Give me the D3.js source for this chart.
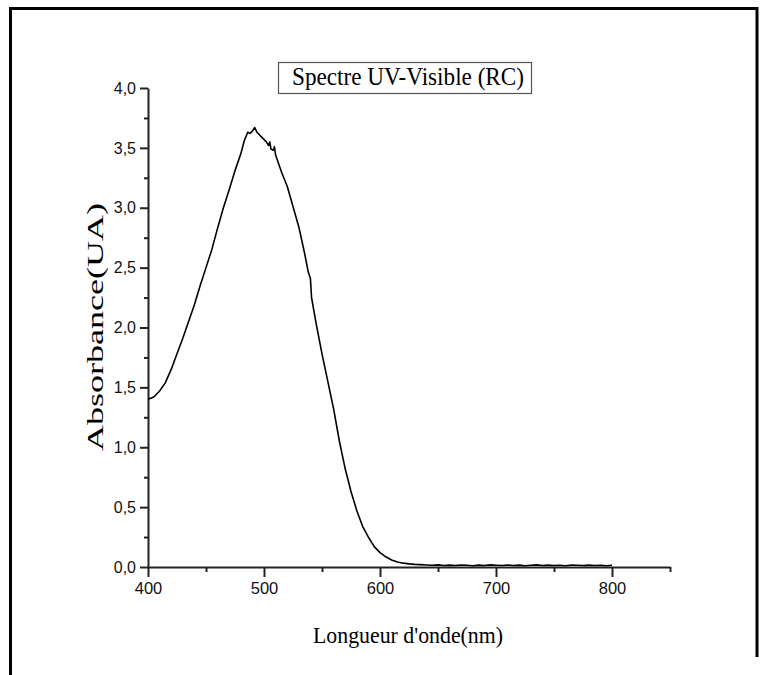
<!DOCTYPE html>
<html>
<head>
<meta charset="utf-8">
<script src="https://cdn.jsdelivr.net/npm/d3@7"></script>
<style>
  html, body { margin: 0; padding: 0; background: #fff; }
  svg { display: block; }
</style>
</head>
<body>
<svg id="chart" width="766" height="675"></svg>
<script>
// ---- data ----
const wavelengths = [
  400, 405, 410, 415, 420, 425, 430, 435, 440, 445, 450, 455, 460, 465, 470, 475, 480,
  483, 486, 488, 490, 492, 494, 496, 498, 500, 502, 504, 505, 506, 508, 509, 510,
  515, 520, 525, 530, 535, 538, 540, 541, 545, 550, 555, 560, 565, 570, 575, 580,
  585, 590, 595, 600, 605, 610, 615, 620, 625, 630, 635, 640, 645, 650, 655, 660,
  665, 670, 675, 680, 685, 690, 695, 700, 705, 710, 715, 720, 725, 730, 735, 740,
  745, 750, 755, 760, 765, 770, 775, 780, 785, 790, 795, 800
];
const absorbance = [
  1.40, 1.42, 1.47, 1.54, 1.65, 1.78, 1.91, 2.05, 2.19, 2.35, 2.50, 2.65, 2.83, 3.00, 3.15, 3.31, 3.45,
  3.56, 3.63, 3.62, 3.64, 3.67, 3.63, 3.61, 3.59, 3.57, 3.55, 3.52, 3.55, 3.49, 3.48, 3.51, 3.44,
  3.30, 3.18, 3.01, 2.84, 2.62, 2.47, 2.41, 2.25, 2.03, 1.78, 1.55, 1.32, 1.05, 0.82, 0.63, 0.47,
  0.34, 0.25, 0.17, 0.12, 0.085, 0.058, 0.042, 0.032, 0.026, 0.022, 0.020, 0.017, 0.015, 0.018, 0.013, 0.016,
  0.012, 0.017, 0.014, 0.011, 0.016, 0.013, 0.018, 0.015, 0.012, 0.017, 0.013, 0.016, 0.011, 0.015, 0.018, 0.012,
  0.016, 0.013, 0.015, 0.011, 0.017, 0.014, 0.012, 0.016, 0.013, 0.015, 0.011, 0.014
];
const xMajorTicks = [400, 500, 600, 700, 800];
const xMinorTicks = [450, 550, 650, 750, 850];
const yMajorTicks = [0, 0.5, 1.0, 1.5, 2.0, 2.5, 3.0, 3.5, 4.0];
const yMinorTicks = [0.25, 0.75, 1.25, 1.75, 2.25, 2.75, 3.25, 3.75];
const titleText = "Spectre UV-Visible (RC)";
const xLabel = "Longueur d'onde(nm)";
const yLabel = "Absorbance(UA)";

// ---- drawing ----
const svg = d3.select("#chart");
const x = d3.scaleLinear().domain([400, 850]).range([148, 670]);
const y = d3.scaleLinear().domain([0, 4]).range([567, 88]);
const fmt = v => d3.format(".1f")(v).replace(".", ",");

// outer frame
svg.append("line").attr("x1", 9).attr("x2", 758).attr("y1", 8.5).attr("y2", 8.5)
  .attr("stroke", "#000").attr("stroke-width", 3);
svg.append("line").attr("x1", 10.5).attr("x2", 10.5).attr("y1", 7).attr("y2", 675)
  .attr("stroke", "#000").attr("stroke-width", 3);
svg.append("line").attr("x1", 757).attr("x2", 757).attr("y1", 7).attr("y2", 657)
  .attr("stroke", "#000").attr("stroke-width", 3);

const axisColor = "#222";

// x axis minor
svg.append("g").attr("transform", `translate(0,${y(0)})`)
  .call(d3.axisBottom(x).tickValues(xMinorTicks).tickSize(5).tickFormat(""))
  .call(g => g.select(".domain").remove())
  .call(g => g.selectAll("line").attr("stroke", axisColor).attr("stroke-width", 2));
// x axis major
svg.append("g").attr("transform", `translate(0,${y(0)})`)
  .call(d3.axisBottom(x).tickValues(xMajorTicks).tickSize(10).tickSizeOuter(0).tickPadding(5).tickFormat(d3.format("d")))
  .call(g => g.select(".domain").attr("stroke", axisColor).attr("stroke-width", 2))
  .call(g => g.selectAll("line").attr("stroke", axisColor).attr("stroke-width", 2))
  .call(g => g.selectAll("text").attr("font-family", "'Liberation Sans', Arial, sans-serif")
    .attr("font-size", 16.5).attr("fill", "#111"));

// y axis minor
svg.append("g").attr("transform", `translate(${x(400)},0)`)
  .call(d3.axisLeft(y).tickValues(yMinorTicks).tickSize(4).tickFormat(""))
  .call(g => g.select(".domain").remove())
  .call(g => g.selectAll("line").attr("stroke", axisColor).attr("stroke-width", 2));
// y axis major
svg.append("g").attr("transform", `translate(${x(400)},0)`)
  .call(d3.axisLeft(y).tickValues(yMajorTicks).tickSize(8).tickSizeOuter(0).tickPadding(4).tickFormat(fmt))
  .call(g => g.select(".domain").attr("stroke", axisColor).attr("stroke-width", 2))
  .call(g => g.selectAll("line").attr("stroke", axisColor).attr("stroke-width", 2))
  .call(g => g.selectAll("text").attr("font-family", "'Liberation Sans', Arial, sans-serif")
    .attr("font-size", 16).attr("fill", "#111"));

// curve
const pts = wavelengths.map((w, i) => [w, absorbance[i]]);
svg.append("path").datum(pts)
  .attr("fill", "none").attr("stroke", "#000").attr("stroke-width", 1.6)
  .attr("stroke-linejoin", "round")
  .attr("d", d3.line().x(d => x(d[0])).y(d => y(d[1])));

// title box
svg.append("rect").attr("x", 278.5).attr("y", 62.5).attr("width", 253).attr("height", 31)
  .attr("fill", "#fff").attr("stroke", "#555").attr("stroke-width", 1.2);
svg.append("text").attr("x", 292).attr("y", 85)
  .attr("font-family", "'Liberation Serif', 'Times New Roman', serif").attr("font-size", 25)
  .attr("textLength", 232).attr("lengthAdjust", "spacingAndGlyphs")
  .attr("fill", "#000").text(titleText);

// x label
svg.append("text").attr("x", 313).attr("y", 643)
  .attr("font-family", "'Liberation Serif', 'Times New Roman', serif").attr("font-size", 24)
  .attr("textLength", 190).attr("lengthAdjust", "spacingAndGlyphs")
  .attr("fill", "#000").text(xLabel);

// y label
svg.append("text").attr("transform", "translate(103,451) rotate(-90)")
  .attr("x", 0).attr("y", 0)
  .attr("font-family", "'Liberation Serif', 'Times New Roman', serif").attr("font-size", 23)
  .attr("textLength", 248).attr("lengthAdjust", "spacingAndGlyphs")
  .attr("fill", "#000").text(yLabel);
</script>
</body>
</html>
